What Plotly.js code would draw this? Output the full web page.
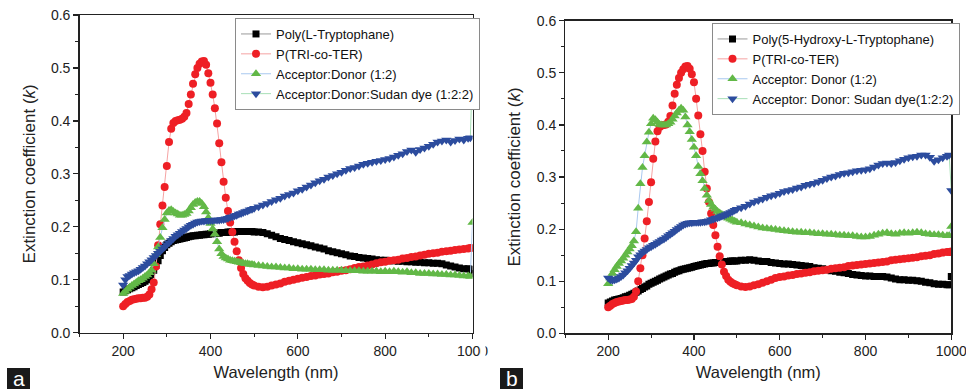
<!DOCTYPE html>
<html>
<head>
<meta charset="utf-8">
<script src="https://cdn.plot.ly/plotly-3.0.1.min.js"></script>
<style>html,body{margin:0;padding:0;background:#fff;}#chart{width:966px;height:389px;}</style>
</head>
<body>
<div id="chart"></div>
<script>
// Wavelength grid (nm)
const wavelength = [200,205,210,215,220,225,230,235,240,245,250,255,260,265,270,275,280,285,290,295,
300,305,310,315,320,325,330,335,340,345,350,355,360,365,370,375,380,385,390,395,
400,405,410,415,420,425,430,435,440,445,450,455,460,465,470,475,480,485,490,495,500,
510,520,530,540,550,560,570,580,590,600,610,620,630,640,650,660,670,680,690,700,
710,720,730,740,750,760,770,780,790,800,810,820,830,840,850,860,870,880,890,900,
910,920,930,940,950,960,970,980,990,995,1000];

// Panel (a)
const polyTrpA = [0.077,0.079,0.081,0.083,0.085,0.087,0.089,0.091,0.093,0.095,
0.097,0.100,0.104,0.110,0.118,0.127,0.136,0.146,0.155,0.161,
0.166,0.169,0.172,0.174,0.175,0.176,0.177,0.178,0.179,0.180,
0.181,0.182,0.183,0.183,0.184,0.184,0.185,0.185,0.186,0.186,
0.187,0.187,0.188,0.188,0.188,0.189,0.189,0.189,0.190,0.190,
0.190,0.190,0.191,0.191,0.191,0.191,0.191,0.191,0.191,0.191,0.190,
0.190,0.189,0.187,0.184,0.181,0.178,0.176,0.174,0.172,0.170,
0.168,0.166,0.164,0.162,0.160,0.158,0.155,0.153,0.151,0.149,
0.147,0.145,0.144,0.142,0.141,0.140,0.139,0.138,0.137,0.137,
0.136,0.136,0.135,0.135,0.134,0.134,0.133,0.133,0.132,0.132,
0.131,0.131,0.130,0.128,0.126,0.124,0.122,0.121,0.121,0.120,0.112];

const pTriTerA = [0.050,0.054,0.058,0.060,0.062,0.063,0.064,0.065,0.065,0.066,
0.066,0.068,0.072,0.082,0.095,0.125,0.165,0.205,0.240,0.275,
0.315,0.360,0.385,0.396,0.400,0.401,0.402,0.404,0.408,0.415,
0.432,0.450,0.470,0.488,0.500,0.508,0.512,0.513,0.506,0.490,
0.472,0.450,0.424,0.395,0.358,0.322,0.285,0.255,0.230,0.208,
0.190,0.172,0.154,0.137,0.122,0.111,0.103,0.098,0.094,0.091,0.089,
0.087,0.086,0.087,0.089,0.091,0.093,0.096,0.098,0.100,0.102,
0.104,0.105,0.107,0.108,0.110,0.111,0.112,0.114,0.115,0.117,
0.118,0.120,0.122,0.124,0.125,0.127,0.129,0.131,0.133,0.134,
0.136,0.137,0.138,0.140,0.141,0.143,0.144,0.146,0.147,0.149,
0.150,0.151,0.153,0.154,0.155,0.156,0.157,0.158,0.159,0.160,0.160];

const accDonA = [0.074,0.078,0.082,0.086,0.089,0.092,0.095,0.098,0.100,0.103,
0.106,0.109,0.113,0.118,0.130,0.147,0.162,0.180,0.198,0.214,
0.226,0.231,0.232,0.229,0.226,0.224,0.222,0.222,0.223,0.225,
0.230,0.236,0.242,0.246,0.248,0.248,0.244,0.238,0.228,0.217,
0.206,0.196,0.186,0.172,0.158,0.149,0.144,0.141,0.139,0.137,
0.136,0.135,0.134,0.133,0.132,0.131,0.130,0.130,0.129,0.129,0.128,
0.127,0.126,0.125,0.124,0.124,0.123,0.122,0.122,0.121,0.121,
0.120,0.120,0.120,0.119,0.119,0.119,0.118,0.118,0.118,0.118,
0.117,0.117,0.117,0.117,0.116,0.116,0.116,0.116,0.115,0.116,
0.115,0.116,0.115,0.114,0.115,0.113,0.113,0.112,0.112,0.112,
0.111,0.111,0.110,0.110,0.109,0.109,0.108,0.107,0.107,0.106,0.208];

const accDonDyeA = [0.090,0.100,0.106,0.108,0.111,0.113,0.115,0.117,0.120,0.123,
0.126,0.130,0.134,0.138,0.142,0.146,0.150,0.154,0.158,0.162,
0.166,0.170,0.174,0.178,0.182,0.185,0.188,0.191,0.194,0.197,
0.200,0.203,0.205,0.207,0.209,0.210,0.211,0.211,0.212,0.212,
0.212,0.212,0.213,0.213,0.213,0.214,0.214,0.215,0.216,0.218,
0.219,0.221,0.222,0.224,0.225,0.227,0.229,0.230,0.232,0.233,0.235,
0.238,0.241,0.244,0.248,0.251,0.254,0.258,0.261,0.264,0.268,
0.271,0.275,0.279,0.283,0.287,0.290,0.294,0.297,0.300,0.303,
0.307,0.310,0.312,0.315,0.318,0.320,0.322,0.324,0.325,0.327,
0.329,0.332,0.335,0.338,0.342,0.345,0.341,0.346,0.349,0.352,
0.356,0.360,0.362,0.364,0.360,0.363,0.366,0.364,0.367,0.368,0.499];

// Panel (b)
const polyHTrpB = [0.058,0.060,0.062,0.064,0.065,0.066,0.067,0.068,0.070,0.071,
0.073,0.075,0.077,0.079,0.081,0.084,0.086,0.089,0.091,0.094,
0.096,0.098,0.100,0.102,0.104,0.106,0.108,0.110,0.112,0.114,
0.115,0.117,0.119,0.120,0.122,0.123,0.124,0.125,0.126,0.127,
0.128,0.129,0.130,0.131,0.132,0.133,0.134,0.134,0.135,0.135,
0.136,0.136,0.137,0.137,0.138,0.138,0.138,0.139,0.139,0.139,0.139,
0.140,0.140,0.141,0.140,0.139,0.138,0.138,0.136,0.135,0.134,
0.133,0.133,0.132,0.131,0.130,0.129,0.128,0.126,0.125,0.124,
0.122,0.120,0.119,0.117,0.116,0.115,0.113,0.112,0.111,0.110,
0.110,0.109,0.109,0.109,0.108,0.106,0.104,0.103,0.103,0.102,
0.102,0.101,0.100,0.098,0.097,0.095,0.094,0.094,0.093,0.093,0.109];

const pTriTerB = [0.050,0.053,0.056,0.058,0.060,0.061,0.062,0.063,0.064,0.064,
0.065,0.066,0.070,0.080,0.100,0.125,0.150,0.182,0.215,0.252,
0.290,0.335,0.368,0.388,0.396,0.399,0.400,0.401,0.406,0.417,
0.437,0.460,0.477,0.490,0.500,0.507,0.512,0.513,0.508,0.497,
0.482,0.450,0.418,0.382,0.350,0.310,0.278,0.252,0.230,0.208,
0.188,0.166,0.148,0.132,0.118,0.110,0.103,0.099,0.096,0.094,0.092,
0.090,0.089,0.090,0.092,0.094,0.097,0.100,0.103,0.106,0.108,
0.109,0.111,0.112,0.114,0.115,0.116,0.117,0.119,0.120,0.121,
0.122,0.124,0.125,0.126,0.127,0.129,0.130,0.131,0.132,0.133,
0.134,0.135,0.136,0.137,0.138,0.140,0.141,0.142,0.143,0.144,
0.145,0.146,0.148,0.149,0.150,0.152,0.153,0.155,0.156,0.156,0.157];

const accDonB = [0.095,0.106,0.115,0.122,0.128,0.134,0.139,0.144,0.150,0.156,
0.162,0.168,0.177,0.195,0.240,0.287,0.318,0.341,0.367,0.386,
0.402,0.413,0.410,0.405,0.401,0.400,0.400,0.400,0.402,0.405,
0.411,0.417,0.423,0.428,0.432,0.428,0.415,0.400,0.387,0.372,
0.357,0.341,0.320,0.306,0.293,0.278,0.265,0.255,0.247,0.242,
0.238,0.234,0.231,0.228,0.226,0.223,0.221,0.219,0.217,0.215,0.213,
0.212,0.210,0.208,0.206,0.204,0.202,0.201,0.200,0.199,0.198,
0.197,0.196,0.195,0.194,0.194,0.193,0.193,0.192,0.191,0.191,
0.190,0.190,0.189,0.188,0.188,0.187,0.187,0.186,0.185,0.185,
0.186,0.188,0.190,0.192,0.193,0.191,0.190,0.192,0.193,0.192,
0.193,0.194,0.193,0.191,0.190,0.189,0.189,0.188,0.187,0.187,0.205];

const accDonDyeB = [0.106,0.103,0.102,0.103,0.104,0.106,0.109,0.112,0.116,0.120,
0.125,0.130,0.135,0.140,0.147,0.151,0.155,0.158,0.161,0.164,
0.166,0.169,0.171,0.174,0.176,0.179,0.181,0.184,0.187,0.190,
0.193,0.196,0.199,0.202,0.205,0.208,0.210,0.211,0.212,0.212,
0.213,0.213,0.213,0.213,0.214,0.214,0.215,0.216,0.218,0.219,
0.221,0.222,0.223,0.225,0.226,0.228,0.230,0.232,0.234,0.236,0.238,
0.241,0.244,0.248,0.252,0.255,0.258,0.261,0.264,0.266,0.269,
0.272,0.274,0.276,0.279,0.281,0.284,0.286,0.288,0.291,0.294,
0.297,0.300,0.302,0.305,0.307,0.308,0.310,0.312,0.313,0.314,
0.316,0.319,0.323,0.326,0.327,0.326,0.328,0.331,0.334,0.337,
0.339,0.340,0.342,0.342,0.338,0.330,0.333,0.337,0.340,0.342,0.274];

const namesA = ['Poly(L-Tryptophane)','P(TRI-co-TER)','Acceptor:Donor (1:2)','Acceptor:Donor:Sudan dye (1:2:2)'];
const namesB = ['Poly(5-Hydroxy-L-Tryptophane)','P(TRI-co-TER)','Acceptor: Donor (1:2)','Acceptor: Donor: Sudan dye(1:2:2)'];

const styles = [
  {symbol:'square', color:'#000000', size:7, line:'#9a9a9a'},
  {symbol:'circle', color:'#ee1f25', size:8, line:'#f5a3a3'},
  {symbol:'triangle-up', color:'#62b847', size:9, line:'#a9c8ef'},
  {symbol:'triangle-down', color:'#2c4c9e', size:9, line:'#a7dfb6'}
];

function mk(y, name, s, xa, ya, leg){
  return {x: wavelength, y: y, name: name, type:'scatter', mode:'lines+markers',
    xaxis: xa, yaxis: ya, legend: leg,
    line:{color:s.line, width:1},
    marker:{symbol:s.symbol, color:s.color, size:s.size, line:{width:0}}};
}
const seriesA = [polyTrpA, pTriTerA, accDonA, accDonDyeA];
const seriesB = [polyHTrpB, pTriTerB, accDonB, accDonDyeB];
const data = [];
seriesA.forEach((y,i)=>data.push(mk(y, namesA[i], styles[i], 'x', 'y', 'legend')));
seriesB.forEach((y,i)=>data.push(mk(y, namesB[i], styles[i], 'x2', 'y2', 'legend2')));

const W = 966, H = 389;
const px = v => v / W, py = v => 1 - v / H;
const axCol = '#222';
function xAxis(dom, anchor){
  return {domain: dom, anchor: anchor, range:[100,1000], tick0:0, dtick:200,
    showline:true, linecolor:axCol, linewidth:1.3, mirror:true,
    ticks:'outside', ticklen:5, tickwidth:1.2, tickcolor:axCol,
    minor:{dtick:100, ticks:'outside', ticklen:3, tickwidth:1, tickcolor:axCol, showgrid:false},
    showgrid:false, zeroline:false, fixedrange:true, ticklabeloverflow:'allow',
    tickfont:{size:14, color:'#222'},
    title:{text:'Wavelength (nm)', font:{size:16.5, color:'#222'}, standoff:8}};
}
function yAxis(dom, anchor){
  return {domain: dom, anchor: anchor, range:[0,0.6], dtick:0.1, tickformat:'.1f',
    showline:true, linecolor:axCol, linewidth:1.3, mirror:true,
    ticks:'outside', ticklen:5, tickwidth:1.2, tickcolor:axCol,
    minor:{dtick:0.05, ticks:'outside', ticklen:3, tickwidth:1, tickcolor:axCol, showgrid:false},
    showgrid:false, zeroline:false, fixedrange:true,
    tickfont:{size:14, color:'#222'},
    title:{text:'Extinction coefficient (<i>k</i>)', font:{size:17, color:'#222'}, standoff:11}};
}
const legStyle = {xanchor:'left', yanchor:'top', bgcolor:'#ffffff', bordercolor:'#8a8a8a', borderwidth:1,
  font:{size:13, color:'#111'}, itemwidth:30, tracegroupgap:0};

const layout = {
  width: W, height: H, margin:{l:0, r:0, t:0, b:0},
  paper_bgcolor:'#ffffff', plot_bgcolor:'#ffffff',
  font:{family:'Liberation Sans, Arial, sans-serif', color:'#222'},
  showlegend:true,
  xaxis: xAxis([px(79.5), px(472.5)], 'y'),
  yaxis: yAxis([py(332.7), py(15)], 'x'),
  xaxis2: xAxis([px(565.3), px(951.3)], 'y2'),
  yaxis2: yAxis([py(333.3), py(20.7)], 'x2'),
  legend: Object.assign({x: px(235), y: py(18)}, legStyle),
  legend2: Object.assign({x: px(711.5), y: py(23)}, legStyle),
  shapes: [
    {type:'rect', xref:'paper', yref:'paper', x0:px(480.5), x1:px(485.5), y0:py(362), y1:py(338), fillcolor:'#ffffff', line:{width:0}, layer:'above'},
    {type:'rect', xref:'paper', yref:'paper', x0:px(7), x1:px(30), y0:py(389), y1:py(368), fillcolor:'#1a1a1a', line:{width:0}, layer:'above'},
    {type:'rect', xref:'paper', yref:'paper', x0:px(500), x1:px(523), y0:py(389), y1:py(368), fillcolor:'#1a1a1a', line:{width:0}, layer:'above'}
  ],
  annotations: [
    {xref:'paper', yref:'paper', x:px(18.5), y:py(378.5), text:'a', showarrow:false, font:{size:21, color:'#ffffff'}, xanchor:'center', yanchor:'middle'},
    {xref:'paper', yref:'paper', x:px(511.5), y:py(378.5), text:'b', showarrow:false, font:{size:21, color:'#ffffff'}, xanchor:'center', yanchor:'middle'}
  ]
};
Plotly.newPlot('chart', data, layout, {displayModeBar:false, staticPlot:true});
</script>
</body>
</html>
